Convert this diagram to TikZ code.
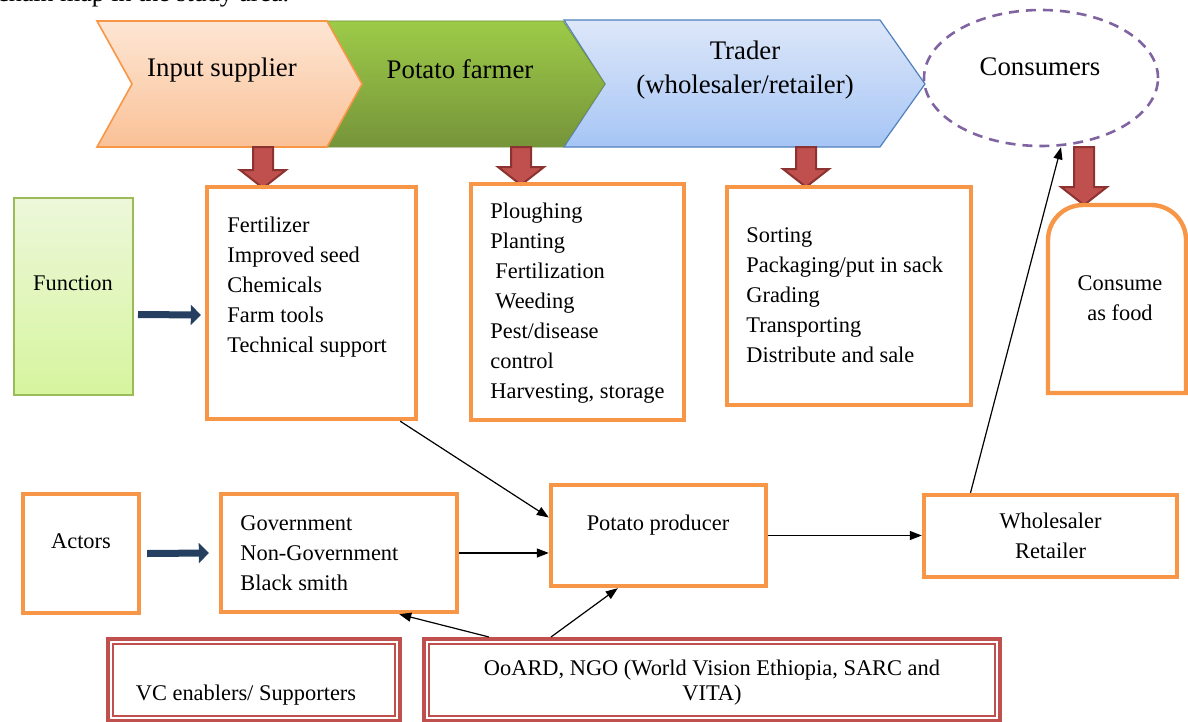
\documentclass[tikz,border=0pt]{standalone}
\usepackage{fontspec}
\setmainfont{Liberation Serif}
\usetikzlibrary{arrows.meta,shapes.geometric}

\definecolor{boxorange}{HTML}{F79646}
\definecolor{brickred}{HTML}{C0504D}
\definecolor{darkbrick}{HTML}{8C3230}
\definecolor{navyline}{HTML}{243F60}
\definecolor{purpledash}{HTML}{8064A2}
\definecolor{fgreen}{HTML}{9BBB59}
\definecolor{peachtop}{HTML}{FDE6D4}
\definecolor{peachbot}{HTML}{FAC197}
\definecolor{leaftop}{HTML}{9DCB48}
\definecolor{leafbot}{HTML}{76943A}
\definecolor{skytop}{HTML}{DDE7F9}
\definecolor{skybot}{HTML}{A6C5F5}
\definecolor{skyline}{HTML}{4F81BD}
\definecolor{limetop}{HTML}{EDF7DA}
\definecolor{limebot}{HTML}{D6F59E}

\begin{document}
\begin{tikzpicture}
  [x=0.5pt,y=-0.5pt,
   font=\fontsize{11.2}{15}\selectfont,
   obox/.style={draw=boxorange,line width=2.2pt,inner sep=0pt},
   rbox/.style={draw=brickred,line width=2pt,inner sep=0pt,minimum height=41pt},
   txt/.style={inner sep=0pt,align=left,anchor=north west},
   link/.style={-{Triangle[length=6pt,width=4.5pt]},line width=0.6pt},
   bigarrow/.style={draw=navyline,line width=3.5pt,-{Triangle[length=5pt,width=10pt]}},
   dropping/.style={fill=brickred,draw=darkbrick,line width=1pt},
   banner/.style={inner sep=0pt,font=\fontsize{13.4}{17}\selectfont,align=center}]
  \useasboundingbox (0,0) rectangle (1188,722);

  \node[anchor=base west,inner sep=0pt,font=\fontsize{13}{15}\selectfont] (caption) at (-3,2) {chain map in the study area.};

  % value chain banner
  \shade[top color=skytop,bottom color=skybot,draw=skyline,line width=0.6pt]
    (564,20) -- (880,20) -- (925,84) -- (880,147) -- (564,147) -- (605,84) -- cycle;
  \shade[top color=leaftop,bottom color=leafbot,draw=leafbot,line width=0.4pt]
    (327,21) -- (563,21) -- (605,84) -- (563,147) -- (327,147) -- (362,84) -- cycle;
  \shade[top color=peachtop,bottom color=peachbot,draw=boxorange,line width=0.8pt]
    (97,21) -- (327,21) -- (362,84) -- (327,147) -- (97,147) -- (132,84) -- cycle;
  \node[banner] (supplier) at (222,70) {Input supplier};
  \node[banner] (farmer) at (460,69) {Potato farmer};
  \node[banner] (trader) at (745,70) {Trader\\(wholesaler/retailer)};
  \node[draw=purpledash,dashed,dash pattern=on 5pt off 3.5pt,line width=1.3pt,ellipse,
        minimum width=117pt,minimum height=68pt,inner sep=0pt] (cons) at (1041,78) {};
  \node[banner] (cons txt) at (1040,67) {Consumers};

  \foreach \x/\ya/\yb in {263/147/188, 521/147/185, 806/147/187, 1084/147/205}
  \filldraw[dropping] (\x-10,\ya) -- (\x-10,\yb-18) -- (\x-23,\yb-18) -- (\x,\yb)
    -- (\x+23,\yb-18) -- (\x+10,\yb-18) -- (\x+10,\ya) -- cycle;

  % functions
  \node[draw=fgreen,line width=1pt,top color=limetop,bottom color=limebot,
        minimum width=59.5pt,minimum height=98.5pt] (func) at (73.5,296.5) {};
  \node[inner sep=0pt] (func txt) at (73,283) {Function};
  \node[obox,minimum width=104.5pt,minimum height=116pt] (inputs) at (311.5,303) {};
  \node[txt] (inputs txt) at (227,217) {Fertilizer\\Improved seed\\Chemicals\\Farm tools\\Technical support};
  \node[obox,minimum width=106.5pt,minimum height=118pt] (tasks) at (577.5,302) {};
  \node[txt] (tasks txt) at (490,203) {Ploughing\\Planting\\\hspace{2.5pt}Fertilization\\\hspace{2.5pt}Weeding\\Pest/disease\\control\\Harvesting, storage};
  \node[obox,minimum width=122pt,minimum height=109pt] (trade) at (849,296) {};
  \node[txt] (trade txt) at (746,227) {Sorting\\Packaging/put in sack\\Grading\\Transporting\\Distribute and sale};
  \draw[draw=boxorange,line width=2.2pt] (1048,393) -- (1048,240) to[out=90,in=180] (1083,205)
    -- (1151,205) to[out=0,in=90] (1186,240) -- (1186,393) -- cycle;
  \node[inner sep=0pt,align=center] (food) at (1120,298) {Consume\\as food};

  % actors
  \node[obox,minimum width=58pt,minimum height=59.5pt] (act) at (81,553.5) {};
  \node[inner sep=0pt] (act txt) at (81,541) {Actors};
  \node[obox,minimum width=118pt,minimum height=59pt] (gov) at (339,553) {};
  \node[txt] (gov txt) at (240,515) {Government\\Non-Government\\Black smith};
  \node[obox,minimum width=107.5pt,minimum height=50.5pt] (prod) at (658.5,535.5) {};
  \node[inner sep=0pt] (prod txt) at (658,525) {Potato producer};
  \node[obox,minimum width=126.5pt,minimum height=41pt,align=center] (whole) at (1050.5,536) {Wholesaler\\Retailer};

  % enablers
  \node[rbox,minimum width=146pt] (vc) at (254,680) {};
  \draw[brickred,line width=1pt] ([shift={(3.5pt,-3.5pt)}]vc.north west) rectangle ([shift={(-3.5pt,3.5pt)}]vc.south east);
  \node[inner sep=0pt] (vc txt) at (246,695) {VC enablers/ Supporters};
  \node[rbox,minimum width=288pt] (ngo) at (712,680) {};
  \draw[brickred,line width=1pt] ([shift={(3.5pt,-3.5pt)}]ngo.north west) rectangle ([shift={(-3.5pt,3.5pt)}]ngo.south east);
  \node[inner sep=0pt,align=center,font=\fontsize{11.2}{12.5}\selectfont] (ngo txt) at (712,683)
    {OoARD, NGO (World Vision Ethiopia, SARC and\\VITA)};

  \draw[bigarrow] ([xshift=2pt,yshift=-9pt]func.east) -- ([xshift=-2pt,yshift=-6pt]inputs.west);
  \draw[bigarrow] ([xshift=3pt]act.east) -- ([xshift=-5pt]gov.west);

  \draw[link] ([xshift=-9pt]inputs.south east) -- ([yshift=9pt]prod.west);
  \draw[link] (gov.east) -- (gov.east -| prod.west);
  \draw[link] (prod.east) -- (prod.east -| whole.west);
  \draw[link] ([xshift=-40pt]whole.north) -- ([xshift=10pt]cons.south);
  \draw[link] ([xshift=33.5pt]ngo.north west) -- ([xshift=-30pt]gov.south east);
  \draw[link] ([xshift=64.5pt]ngo.north west) -- ([xshift=34.5pt]prod.south west);
\end{tikzpicture}
\end{document}
